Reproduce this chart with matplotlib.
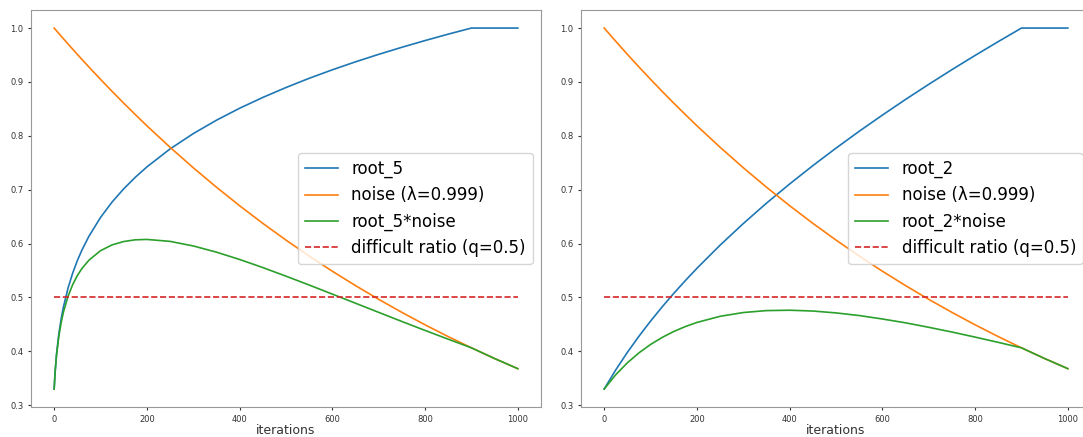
import matplotlib
matplotlib.use('Agg')
import matplotlib.pyplot as plt

# iteration grids for the two schedules
iters_5 = [0, 2, 5, 10, 15, 20, 30, 40, 50, 60, 75, 100, 125, 150, 175, 200, 250, 300, 350,
           400, 450, 500, 550, 600, 650, 700, 750, 800, 850, 900, 950, 1000]
iters_2 = [0, 25, 50, 75, 100, 125, 150, 175, 200, 250, 300, 350, 400, 450, 500,
           550, 600, 650, 700, 750, 800, 850, 900, 950, 1000]

# competence curves
root_5 = [0.33, 0.3610, 0.3936, 0.4316, 0.4597, 0.4821, 0.5175, 0.5452, 0.5683, 0.5880,
          0.6135, 0.6484, 0.6771, 0.7015, 0.7230, 0.7422, 0.7756, 0.8040, 0.8289, 0.8511,
          0.8712, 0.8896, 0.9067, 0.9225, 0.9373, 0.9512, 0.9643, 0.9768, 0.9887, 1.0,
          1.0, 1.0]
root_2 = [0.33, 0.3656, 0.3980, 0.4280, 0.4560, 0.4824, 0.5074, 0.5312, 0.5540, 0.5970,
          0.6371, 0.6749, 0.7106, 0.7446, 0.7771, 0.8084, 0.8384, 0.8675, 0.8955, 0.9228,
          0.9492, 0.9749, 1.0, 1.0, 1.0]

# noise decay (lambda = 0.999)
noise_5 = [1.0, 0.9980, 0.9950, 0.9900, 0.9851, 0.9802, 0.9704, 0.9608, 0.9512, 0.9417,
           0.9277, 0.9048, 0.8824, 0.8606, 0.8394, 0.8186, 0.7787, 0.7407, 0.7046, 0.6702,
           0.6375, 0.6064, 0.5768, 0.5486, 0.5219, 0.4964, 0.4722, 0.4491, 0.4272, 0.4064,
           0.3865, 0.3677]
noise_2 = [1.0, 0.9753, 0.9512, 0.9277, 0.9048, 0.8824, 0.8606, 0.8394, 0.8186, 0.7787,
           0.7407, 0.7046, 0.6702, 0.6375, 0.6064, 0.5768, 0.5486, 0.5219, 0.4964, 0.4722,
           0.4491, 0.4272, 0.4064, 0.3865, 0.3677]

# combined
prod_5 = [0.33, 0.3603, 0.3916, 0.4273, 0.4528, 0.4726, 0.5022, 0.5238, 0.5406, 0.5537,
          0.5691, 0.5867, 0.5975, 0.6037, 0.6069, 0.6076, 0.6040, 0.5955, 0.5840, 0.5704,
          0.5554, 0.5394, 0.5230, 0.5061, 0.4892, 0.4722, 0.4553, 0.4387, 0.4224, 0.4064,
          0.3865, 0.3677]
prod_2 = [0.33, 0.3566, 0.3786, 0.3971, 0.4126, 0.4257, 0.4367, 0.4459, 0.4535, 0.4649,
          0.4719, 0.4755, 0.4762, 0.4747, 0.4712, 0.4663, 0.4599, 0.4528, 0.4445, 0.4357,
          0.4263, 0.4165, 0.4064, 0.3865, 0.3677]

ratio_x = [0, 1000]
ratio_y = [0.5, 0.5]

fig = plt.figure(figsize=(10.83, 4.37), dpi=100)
ax1 = fig.add_axes([0.0286, 0.0686, 0.4709, 0.9085])
ax2 = fig.add_axes([0.5365, 0.0686, 0.4709, 0.9085])

panels = [
    (ax1, iters_5, root_5, noise_5, prod_5, 'root_5'),
    (ax2, iters_2, root_2, noise_2, prod_2, 'root_2'),
]

for ax, x, root, noise, prod, name in panels:
    ax.plot(x, root, color='#1f77b4', lw=1.2, label=name)
    ax.plot(x, noise, color='#ff7f0e', lw=1.2, label='noise (\u03bb=0.999)')
    ax.plot(x, prod, color='#2ca02c', lw=1.2, label=name + '*noise')
    ax.plot(ratio_x, ratio_y, color='#d62728', lw=1.2, linestyle='--',
            label='difficult ratio (q=0.5)')
    ax.set_xticks([0, 200, 400, 600, 800, 1000])
    ax.set_yticks([0.3, 0.4, 0.5, 0.6, 0.7, 0.8, 0.9, 1.0])
    ax.tick_params(labelsize=6, colors='#333333', length=2.5, pad=3)
    ax.set_xlabel('iterations', fontsize=9, color='#333333', labelpad=0)
    for s in ax.spines.values():
        s.set_color('#999999')
    ax.legend(loc='center right', fontsize=12)

fig.savefig('out.png', dpi=100)
